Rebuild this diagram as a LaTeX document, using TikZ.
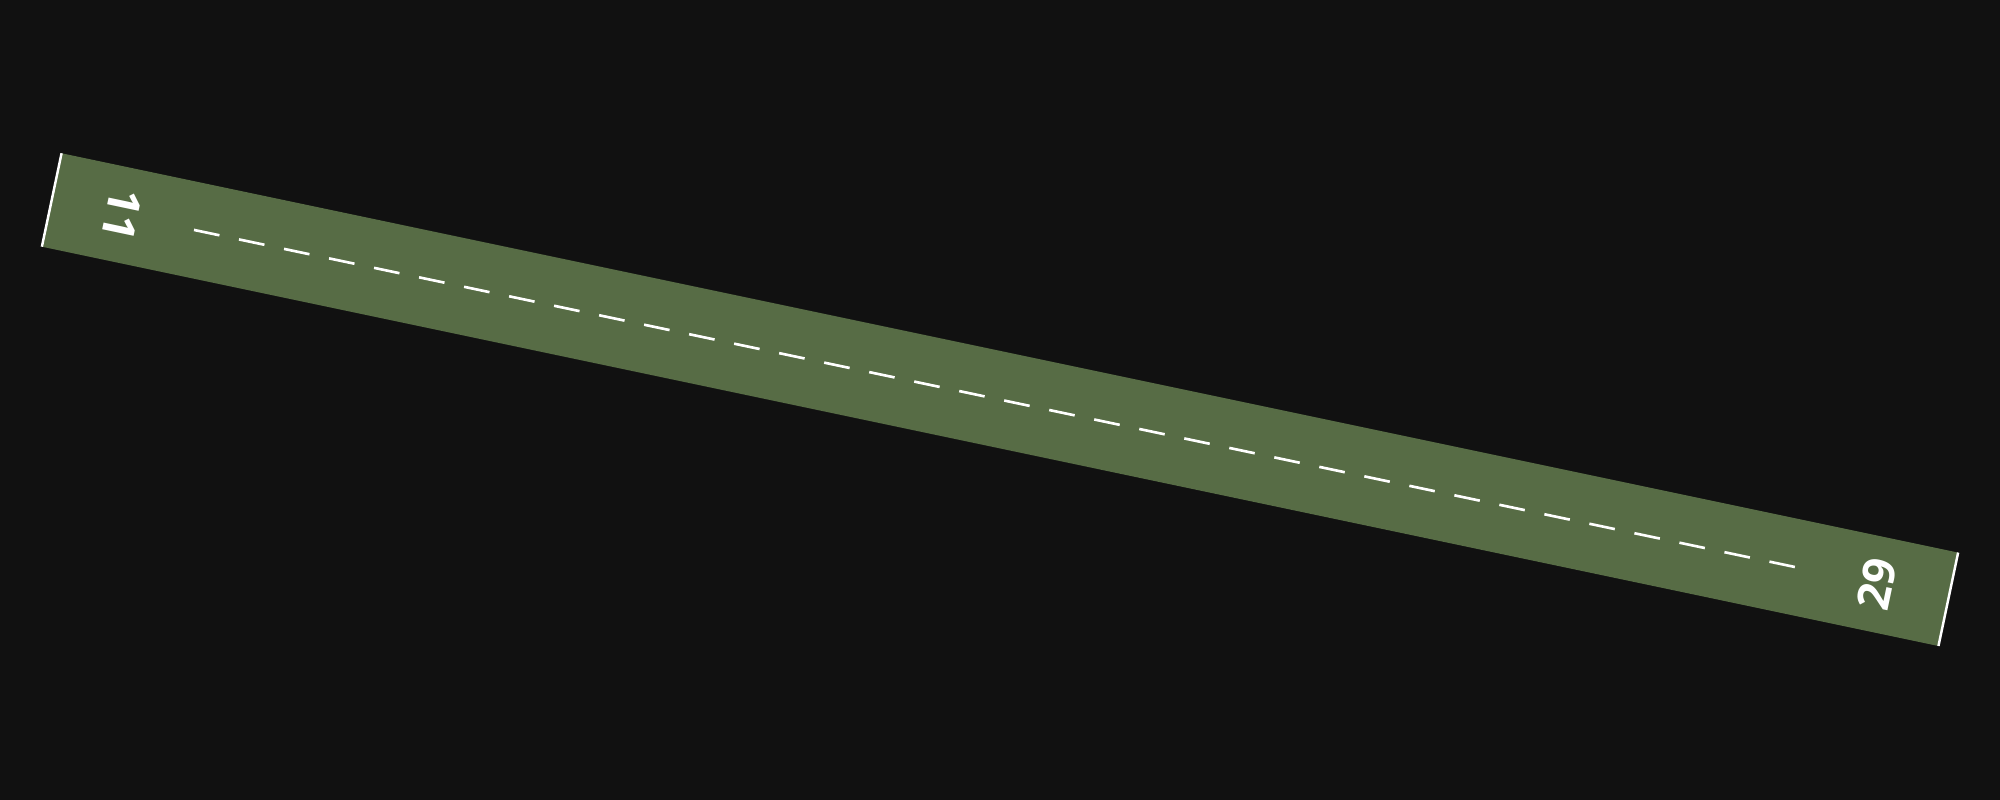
\documentclass[tikz,border=0pt]{standalone}
\usepackage{fontspec}
\setsansfont{Open Sans}
\definecolor{bg}{HTML}{111111}
\definecolor{rwy}{RGB}{87,108,69}
\begin{document}
\begin{tikzpicture}[num/.style={white,font=\sffamily\bfseries\fontsize{12.8}{14}\selectfont,inner sep=0pt}]
\fill[bg](0,0)rectangle(20,8);
\useasboundingbox(0,0)rectangle(20,8);
\begin{scope}[shift={(10,4.0035)},rotate=-11.89,transform shape]
\fill[rwy](-9.691,-.4775)rectangle(9.691,.4775);
\draw[white,line width=.7pt](-9.691,-.4775)--(-9.691,.4775);
\draw[white,line width=.7pt](9.691,-.4775)--(9.691,.4775);
\draw[white,line width=.75pt,dash pattern=on .26cm off .2cm](-8.237,0)--(8.124,0);
\node[num,rotate=-90](num11) at (-8.975,0){11};
\node[num,rotate=90](num29) at (8.96,0){29};
\end{scope}
\end{tikzpicture}
\end{document}
